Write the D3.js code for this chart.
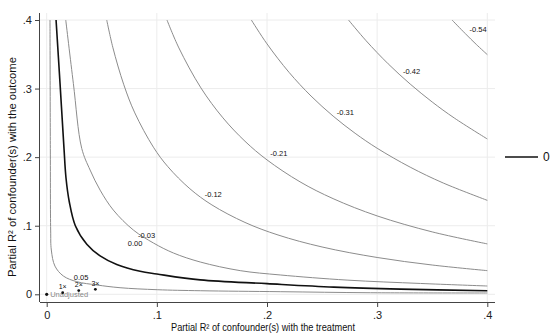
<!DOCTYPE html>
<html><head><meta charset="utf-8">
<script src="https://cdn.jsdelivr.net/npm/d3@7"></script>
<style>body{margin:0;background:#fff}svg{display:block}text{font-family:"Liberation Sans",Arial,sans-serif}</style>
</head><body><svg id="c" width="555" height="336"></svg>
<script>
// ---- data ----
const xTicks = [0, 0.1, 0.2, 0.3, 0.4];
const xTickLabels = ["0", ".1", ".2", ".3", ".4"];
const yTicks = [0, 0.1, 0.2, 0.3, 0.4];
const yTickLabels = ["0", ".1", ".2", ".3", ".4"];

const contourLevels = ["0.05", "0.00", "-0.03", "-0.12", "-0.21", "-0.31", "-0.42", "-0.54"];
const contour_p005 = [[0.003,0.4],[0.0033,0.2128],[0.0036,0.0937],[0.0042,0.0646],[0.0075,0.0411],[0.0151,0.0267],[0.0273,0.0184],[0.0455,0.0136],[0.0666,0.0096],[0.1003,0.0067],[0.1394,0.0052],[0.212,0.0038],[0.2939,0.0023],[0.4,0.0019]];
const contour_000 = [[0.0085,0.4],[0.0121,0.3076],[0.0157,0.2128],[0.0175,0.17],[0.0205,0.135],[0.026,0.1],[0.0364,0.073],[0.0485,0.056],[0.0636,0.0435],[0.0848,0.0335],[0.1,0.0296],[0.1394,0.021],[0.2,0.0155],[0.2606,0.0105],[0.3212,0.0075],[0.4,0.0052]];
const contour_m003 = [[0.0173,0.4],[0.0242,0.3076],[0.0318,0.2128],[0.0394,0.1812],[0.0485,0.1519],[0.0605,0.1228],[0.0787,0.0937],[0.0969,0.0748],[0.1151,0.0602],[0.1394,0.0471],[0.1757,0.0345],[0.212,0.0282],[0.2727,0.0207],[0.3394,0.0158],[0.4,0.0121]];
const contour_m012 = [[0.0545,0.4],[0.06,0.3603],[0.07,0.3056],[0.08,0.2645],[0.0969,0.2145],[0.11,0.1861],[0.13,0.1539],[0.15,0.1303],[0.18,0.1048],[0.21,0.0865],[0.25,0.069],[0.3,0.0537],[0.35,0.0427],[0.4,0.0345]];
const contour_m021 = [[0.1092,0.4],[0.12,0.3593],[0.14,0.301],[0.16,0.2573],[0.18,0.2232],[0.2,0.196],[0.23,0.164],[0.26,0.1395],[0.3,0.1143],[0.35,0.091],[0.4,0.0735]];
const contour_m031 = [[0.1858,0.4],[0.2,0.3652],[0.22,0.3237],[0.24,0.2891],[0.26,0.2599],[0.28,0.2348],[0.3,0.213],[0.33,0.1854],[0.36,0.1623],[0.4,0.137]];
const contour_m042 = [[0.274,0.4],[0.29,0.3697],[0.31,0.3361],[0.33,0.3066],[0.35,0.2804],[0.37,0.2571],[0.4,0.2265]];
const contour_m054 = [[0.368,0.4],[0.38,0.3802],[0.39,0.3644],[0.4,0.3495]];
const contours = [contour_p005, contour_000, contour_m003, contour_m012, contour_m021, contour_m031, contour_m042, contour_m054];
const contourLabelAt = [[0.0312,0.0252],[0.0803,0.0748],[0.0907,0.0864],[0.1512,0.1462],[0.2107,0.206],[0.2712,0.2656],[0.3312,0.3255],[0.3917,0.3867]];

const unadjusted = [0, 0];
const boundLabels = ["1\u00d7", "2\u00d7", "3\u00d7"];
const boundX = [0.0145, 0.0291, 0.0442];
const boundY = [0.0023, 0.0055, 0.0073];

const xTitle = "Partial R\u00b2 of confounder(s) with the treatment";
const yTitle = "Partial R\u00b2 of confounder(s) with the outcome";
const legendLabel = "0";

// ---- drawing ----
const svg = d3.select("#c");
const x = d3.scaleLinear().domain([0, 0.4]).range([46.7, 487.3]);
const y = d3.scaleLinear().domain([0, 0.4]).range([294.3, 20]);
const axisLeftX = 40, axisBottomY = 302;

// grid
const g = svg.append("g");
g.selectAll("line.vg").data(xTicks).join("line")
  .attr("x1", d => x(d)).attr("x2", d => x(d)).attr("y1", 13).attr("y2", axisBottomY)
  .attr("stroke", "#ececec").attr("stroke-width", 1);
g.selectAll("line.hg").data(yTicks).join("line")
  .attr("x1", axisLeftX).attr("x2", 495).attr("y1", d => y(d)).attr("y2", d => y(d))
  .attr("stroke", "#ececec").attr("stroke-width", 1);

// axes
const xAxis = d3.axisBottom(x).tickValues(xTicks).tickFormat((d, i) => xTickLabels[i]).tickSize(5).tickPadding(4);
const gx = svg.append("g").attr("transform", `translate(0,${axisBottomY})`).call(xAxis);
gx.select(".domain").remove();
gx.append("line").attr("x1", axisLeftX).attr("x2", 495).attr("y1", 0.5).attr("y2", 0.5).attr("stroke", "#444");
gx.selectAll(".tick line").attr("stroke", "#444");
gx.selectAll(".tick text").attr("font-size", 11).attr("fill", "#222").attr("font-family", "Liberation Sans, Arial, sans-serif");

const yAxis = d3.axisLeft(y).tickValues(yTicks).tickFormat((d, i) => yTickLabels[i]).tickSize(5).tickPadding(3);
const gy = svg.append("g").attr("transform", `translate(${axisLeftX},0)`).call(yAxis);
gy.select(".domain").remove();
gy.append("line").attr("x1", -0.5).attr("x2", -0.5).attr("y1", 13).attr("y2", axisBottomY).attr("stroke", "#444");
gy.selectAll(".tick line").attr("stroke", "#444");
gy.selectAll(".tick text").attr("font-size", 11).attr("fill", "#222").attr("font-family", "Liberation Sans, Arial, sans-serif");

// contours
const line = d3.line().x(d => x(d[0])).y(d => y(d[1])).curve(d3.curveCatmullRom.alpha(0.5));
svg.append("g").selectAll("path").data(contours).join("path")
  .attr("d", line).attr("fill", "none")
  .attr("stroke", (d, i) => contourLevels[i] === "0.00" ? "#111" : "#8c8c8c")
  .attr("stroke-width", (d, i) => contourLevels[i] === "0.00" ? 1.6 : 1);

svg.append("g").selectAll("text").data(contourLevels).join("text")
  .attr("x", (d, i) => x(contourLabelAt[i][0])).attr("y", (d, i) => y(contourLabelAt[i][1]))
  .attr("dy", "0.35em").attr("text-anchor", "middle")
  .attr("font-size", 7.5).attr("fill", "#111").text(d => d);

// unadjusted point
svg.append("circle").attr("cx", x(unadjusted[0])).attr("cy", y(unadjusted[1])).attr("r", 1.6).attr("fill", "#111");
svg.append("text").attr("x", x(unadjusted[0]) + 3.5).attr("y", y(unadjusted[1])).attr("dy", "0.35em")
  .attr("font-size", 7.5).attr("fill", "#8a8a8a").text("Unadjusted");

// bounds
const bg = svg.append("g");
bg.selectAll("circle").data(boundLabels).join("circle")
  .attr("cx", (d, i) => x(boundX[i])).attr("cy", (d, i) => y(boundY[i])).attr("r", 1.4).attr("fill", "#111");
bg.selectAll("text").data(boundLabels).join("text")
  .attr("x", (d, i) => x(boundX[i])).attr("y", (d, i) => y(boundY[i]) - 3.5)
  .attr("text-anchor", "middle").attr("font-size", 7).attr("fill", "#111").text(d => d);

// titles
svg.append("text").attr("x", 263).attr("y", 331).attr("text-anchor", "middle")
  .attr("font-size", 10).attr("fill", "#111").attr("textLength", 184).attr("lengthAdjust", "spacingAndGlyphs").text(xTitle);
svg.append("text").attr("transform", "translate(16,167) rotate(-90)").attr("text-anchor", "middle")
  .attr("font-size", 10.5).attr("fill", "#111").attr("textLength", 220).attr("lengthAdjust", "spacingAndGlyphs").text(yTitle);

// legend
svg.append("line").attr("x1", 505).attr("x2", 538).attr("y1", 157).attr("y2", 157).attr("stroke", "#111").attr("stroke-width", 1.6);
svg.append("text").attr("x", 543).attr("y", 157).attr("dy", "0.35em").attr("font-size", 12).attr("fill", "#111").text(legendLabel);
</script>
</body></html>
